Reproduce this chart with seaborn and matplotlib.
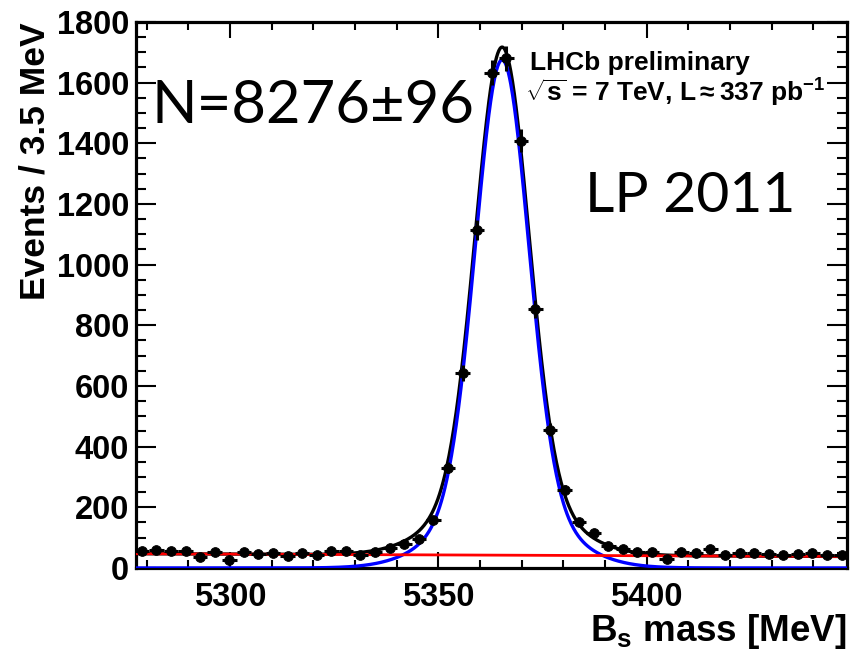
import numpy as np
import matplotlib
matplotlib.use("Agg")
import matplotlib.pyplot as plt
import seaborn as sns
from matplotlib.ticker import MultipleLocator

# Bs -> J/psi phi mass spectrum, events per 3.5 MeV bin
bin_width = 3.5
first_center = 5278.8
counts = [57, 58, 57, 56, 37, 52, 27, 53, 45, 48,
          41, 51, 43, 56, 56, 43, 54, 67, 78, 95,
          158, 330, 643, 1114, 1633, 1680, 1408, 854, 455, 257,
          150, 116, 72, 62, 52, 52, 29, 52, 48, 62,
          43, 48, 48, 46, 43, 46, 48, 43, 43]

# fit curves as drawn: double Gaussian signal + exponential background
peak_height = 1675.0
mass_mean = 5365.3
sigma_core = 6.3
sigma_wide = 13.0
wide_share = 0.135      # share of the peak height from the wide Gaussian
bkg_level = 47.0
bkg_slope = -0.00124

mass_range = (5277.4, 5448.1)

centers = first_center + bin_width * np.arange(len(counts))
counts = np.array(counts, dtype=float)

xs = np.linspace(mass_range[0], mass_range[1], 1200)
signal = peak_height * ((1 - wide_share) * np.exp(-0.5 * ((xs - mass_mean) / sigma_core) ** 2)
                        + wide_share * np.exp(-0.5 * ((xs - mass_mean) / sigma_wide) ** 2))
background = bkg_level * np.exp(bkg_slope * (xs - mass_range[0]))
total = signal + background

sns.set_theme(style="white")
plt.rcParams['font.family'] = ['Liberation Sans', 'DejaVu Sans']
plt.rcParams['font.weight'] = 'bold'
plt.rcParams['text.color'] = 'black'
plt.rcParams['axes.labelcolor'] = 'black'
plt.rcParams['xtick.color'] = 'black'
plt.rcParams['ytick.color'] = 'black'
plt.rcParams['mathtext.fontset'] = 'custom'
plt.rcParams['mathtext.rm'] = 'Liberation Sans:bold'
plt.rcParams['mathtext.it'] = 'Liberation Sans:bold'
plt.rcParams['mathtext.bf'] = 'Liberation Sans:bold'

fig = plt.figure(figsize=(8.51, 6.5), dpi=100)
ax = fig.add_axes([0.1598, 0.1262, 0.8355, 0.84])

sns.lineplot(x=xs, y=total, color='black', lw=2.4, ax=ax, sort=False, estimator=None, zorder=3)
sns.lineplot(x=xs, y=signal, color='#0000ff', lw=2.4, ax=ax, sort=False, estimator=None, zorder=4)
sns.lineplot(x=xs, y=background, color='#ff0000', lw=2.0, ax=ax, sort=False, estimator=None, zorder=4)

ax.errorbar(centers, counts, yerr=np.sqrt(counts), xerr=bin_width / 2, fmt='none',
            ecolor='black', elinewidth=2.2, capsize=0, zorder=5)
sns.scatterplot(x=centers, y=counts, color='black', s=50, edgecolor='black', ax=ax, zorder=6)

ax.set_xlim(*mass_range)
ax.set_ylim(0, 1800)
ax.xaxis.set_major_locator(MultipleLocator(50))
ax.xaxis.set_minor_locator(MultipleLocator(10))
ax.yaxis.set_major_locator(MultipleLocator(200))
ax.yaxis.set_minor_locator(MultipleLocator(50))
ax.tick_params(which='both', direction='in', bottom=True, left=True, top=True, right=True,
               color='black', width=1.5)
ax.tick_params(axis='y', which='major', length=14.5, labelsize=23.5, pad=5)
ax.tick_params(axis='y', which='minor', length=7.5)
ax.tick_params(axis='x', which='major', length=11.5, labelsize=23.5, pad=10)
ax.tick_params(axis='x', which='minor', length=6)
for lab in ax.get_xticklabels() + ax.get_yticklabels():
    lab.set_fontweight('bold')
for sp in ax.spines.values():
    sp.set_linewidth(2.3)
    sp.set_color('black')

ax.set_ylabel("Events / 3.5 MeV", fontsize=25.5, fontweight='bold', loc='top', labelpad=4)
ax.set_xlabel(r"B$_{s}$ mass [MeV]", fontsize=26.5, fontweight='bold', ha='right', va='top')
ax.xaxis.set_label_coords(1.0, -0.081)

ax.text(0.0225, 0.815, "N=8276±96", transform=ax.transAxes, fontsize=43,
        family=['Lato', 'DejaVu Sans'], fontweight='normal', va='baseline', ha='left')
ax.text(0.6315, 0.652, "LP 2011", transform=ax.transAxes, fontsize=41,
        family=['Lato', 'DejaVu Sans'], fontweight='normal', va='baseline', ha='left')
ax.text(0.554, 0.912, "LHCb preliminary", transform=ax.transAxes, fontsize=19,
        fontweight='bold', va='baseline', ha='left')
ax.text(0.5475, 0.854, r"$\sqrt{s}$ = 7 TeV, L$\approx$337 pb$^{-1}$", transform=ax.transAxes,
        fontsize=19, fontweight='bold', va='baseline', ha='left')

fig.savefig("out.png", dpi=100)
